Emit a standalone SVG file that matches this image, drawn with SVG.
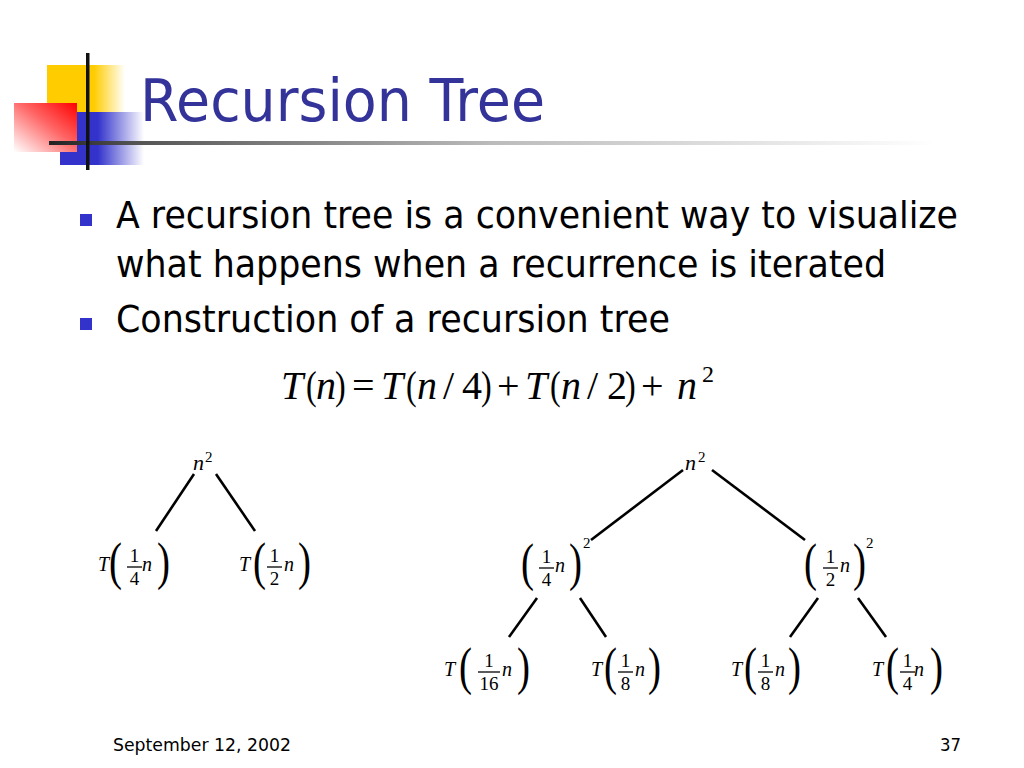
<svg xmlns="http://www.w3.org/2000/svg" width="1024" height="768" viewBox="0 0 1024 768">
<defs>
<linearGradient id="gY" x1="0" y1="0" x2="1" y2="0"><stop offset="0" stop-color="#FFCC00"/><stop offset="0.6" stop-color="#FFCC00"/><stop offset="1" stop-color="#FFCC00" stop-opacity="0"/></linearGradient>
<linearGradient id="gB" x1="0" y1="0" x2="1" y2="0"><stop offset="0" stop-color="#3333CC"/><stop offset="0.45" stop-color="#3333CC"/><stop offset="1" stop-color="#3333CC" stop-opacity="0"/></linearGradient>
<linearGradient id="gR" x1="1" y1="0" x2="0" y2="1"><stop offset="0" stop-color="#FF0000"/><stop offset="0.45" stop-color="#FF6666"/><stop offset="1" stop-color="#FFFFFF"/></linearGradient>
<linearGradient id="gL" gradientUnits="userSpaceOnUse" x1="49" y1="0" x2="935" y2="0"><stop offset="0" stop-color="#222222"/><stop offset="0.1" stop-color="#555555"/><stop offset="0.5" stop-color="#BBBBBB"/><stop offset="1" stop-color="#FFFFFF"/></linearGradient>
</defs>
<style>
.title{font-family:"DejaVu Sans","Liberation Sans",sans-serif;font-size:59px;fill:#333399}
.body{font-family:"DejaVu Sans","Liberation Sans",sans-serif;font-size:38px;fill:#000}
.foot{font-family:"DejaVu Sans","Liberation Sans",sans-serif;font-size:18px;fill:#000}
.bul{fill:#3333CC}
.m{font-family:"Liberation Serif","Times New Roman",serif;fill:#000}
.fi{font-size:40px;font-style:italic}
.fu{font-size:40px}
.fs{font-size:24px}
.it{font-size:20px;font-style:italic}
.nn{font-size:22px;font-style:italic}
.sp{font-size:15px}
.fr{font-size:19px;text-anchor:middle}
.par{font-size:52px}
.bar{stroke:#000;stroke-width:1.3}
.edge{stroke:#000;stroke-width:2.6;fill:none}
</style>
<g id="logo">
<rect x="47" y="65" width="78" height="47" fill="url(#gY)"/>
<rect x="60" y="112" width="84" height="53" fill="url(#gB)"/>
<rect x="14" y="103" width="63" height="49" fill="url(#gR)"/>
<rect x="49" y="141" width="886" height="4" fill="url(#gL)"/>
<rect x="86" y="53" width="3.5" height="117" fill="#111"/>
</g>
<text class="title" x="140" y="121" textLength="405" lengthAdjust="spacingAndGlyphs">Recursion Tree</text>
<g id="bullets">
<rect class="bul" x="80" y="214" width="12" height="12"/>
<rect class="bul" x="80" y="318" width="12" height="12"/>
<text class="body" x="116" y="228" textLength="842" lengthAdjust="spacingAndGlyphs">A recursion tree is a convenient way to visualize</text>
<text class="body" x="116" y="277" textLength="770" lengthAdjust="spacingAndGlyphs">what happens when a recurrence is iterated</text>
<text class="body" x="116" y="332" textLength="554" lengthAdjust="spacingAndGlyphs">Construction of a recursion tree</text>
</g>
<g id="formula" class="m">
<text class="fi" x="281" y="399">T</text>
<text class="fu" transform="translate(306 399) scale(0.8 1)">(</text>
<text class="fi" x="316" y="399">n</text>
<text class="fu" transform="translate(335 399) scale(0.8 1)">)</text>
<text class="fu" x="352" y="399">=</text>
<text class="fi" x="381" y="399">T</text>
<text class="fu" transform="translate(406 399) scale(0.8 1)">(</text>
<text class="fi" x="417" y="399">n</text>
<text class="fu" x="443" y="399">/</text>
<text class="fu" x="462" y="399">4</text>
<text class="fu" transform="translate(481 399) scale(0.8 1)">)</text>
<text class="fu" x="497" y="399">+</text>
<text class="fi" x="525" y="399">T</text>
<text class="fu" transform="translate(550 399) scale(0.8 1)">(</text>
<text class="fi" x="561" y="399">n</text>
<text class="fu" x="587" y="399">/</text>
<text class="fu" x="607" y="399">2</text>
<text class="fu" transform="translate(625 399) scale(0.8 1)">)</text>
<text class="fu" x="641" y="399">+</text>
<text class="fi" x="677" y="399">n</text>
<text class="fs" x="702" y="382">2</text>
</g>
<g id="connectors">
<line class="edge" x1="194" y1="474" x2="156" y2="531"/>
<line class="edge" x1="216" y1="474" x2="255" y2="531"/>
<line class="edge" x1="683" y1="470" x2="591" y2="540"/>
<line class="edge" x1="712" y1="470" x2="805" y2="540"/>
<line class="edge" x1="537" y1="598" x2="509" y2="637"/>
<line class="edge" x1="580" y1="598" x2="606" y2="637"/>
<line class="edge" x1="818" y1="598" x2="790" y2="637"/>
<line class="edge" x1="858" y1="598" x2="886" y2="637"/>
</g>
<g id="L0" class="m"><text class="nn" x="193" y="470">n</text><text class="sp" x="205" y="462">2</text></g>
<g id="L1" class="m">
<text class="it" x="98" y="571">T</text><text class="par" transform="translate(109 579) scale(0.75 1)">(</text>
<text class="fr" x="134.5" y="562">1</text><line class="bar" x1="127" y1="567" x2="142" y2="567"/><text class="fr" x="134.5" y="585">4</text>
<text class="it" x="142" y="571">n</text><text class="par" transform="translate(157 579) scale(0.75 1)">)</text>
</g>
<g id="L2" class="m">
<text class="it" x="239" y="571">T</text><text class="par" transform="translate(253 579) scale(0.75 1)">(</text>
<text class="fr" x="274.5" y="562">1</text><line class="bar" x1="267" y1="567" x2="282" y2="567"/><text class="fr" x="274.5" y="585">2</text>
<text class="it" x="284" y="571">n</text><text class="par" transform="translate(298 579) scale(0.75 1)">)</text>
</g>
<g id="R0" class="m"><text class="nn" x="685" y="470">n</text><text class="sp" x="698" y="462">2</text></g>
<g id="R1" class="m">
<text class="par" transform="translate(521 580) scale(0.75 1)">(</text>
<text class="fr" x="546.5" y="563">1</text><line class="bar" x1="539" y1="568" x2="554" y2="568"/><text class="fr" x="546.5" y="586">4</text>
<text class="it" x="555" y="572">n</text><text class="par" transform="translate(569 580) scale(0.75 1)">)</text><text class="sp" x="583" y="548">2</text>
</g>
<g id="R2" class="m">
<text class="par" transform="translate(804 580) scale(0.75 1)">(</text>
<text class="fr" x="830.5" y="563">1</text><line class="bar" x1="823" y1="568" x2="838" y2="568"/><text class="fr" x="830.5" y="586">2</text>
<text class="it" x="840" y="572">n</text><text class="par" transform="translate(853 580) scale(0.75 1)">)</text><text class="sp" x="866" y="548">2</text>
</g>
<g id="R3" class="m">
<text class="it" x="444" y="676">T</text><text class="par" transform="translate(459 684) scale(0.75 1)">(</text>
<text class="fr" x="489" y="667">1</text><line class="bar" x1="478" y1="672" x2="500" y2="672"/><text class="fr" x="489" y="690">16</text>
<text class="it" x="502" y="676">n</text><text class="par" transform="translate(517 684) scale(0.75 1)">)</text>
</g>
<g id="R4" class="m">
<text class="it" x="591" y="676">T</text><text class="par" transform="translate(604 684) scale(0.75 1)">(</text>
<text class="fr" x="625.5" y="667">1</text><line class="bar" x1="618" y1="672" x2="633" y2="672"/><text class="fr" x="625.5" y="690">8</text>
<text class="it" x="635" y="676">n</text><text class="par" transform="translate(648 684) scale(0.75 1)">)</text>
</g>
<g id="R5" class="m">
<text class="it" x="731" y="676">T</text><text class="par" transform="translate(744 684) scale(0.75 1)">(</text>
<text class="fr" x="765.5" y="667">1</text><line class="bar" x1="758" y1="672" x2="773" y2="672"/><text class="fr" x="765.5" y="690">8</text>
<text class="it" x="775" y="676">n</text><text class="par" transform="translate(788 684) scale(0.75 1)">)</text>
</g>
<g id="R6" class="m">
<text class="it" x="872" y="676">T</text><text class="par" transform="translate(886 684) scale(0.75 1)">(</text>
<text class="fr" x="907.5" y="667">1</text><line class="bar" x1="900" y1="672" x2="915" y2="672"/><text class="fr" x="907.5" y="690">4</text>
<text class="it" x="914" y="676">n</text><text class="par" transform="translate(930 684) scale(0.75 1)">)</text>
</g>
<g id="footer">
<text class="foot" x="113" y="751" textLength="178" lengthAdjust="spacingAndGlyphs">September 12, 2002</text>
<text class="foot" x="940" y="751" textLength="21" lengthAdjust="spacingAndGlyphs">37</text>
</g>
</svg>
